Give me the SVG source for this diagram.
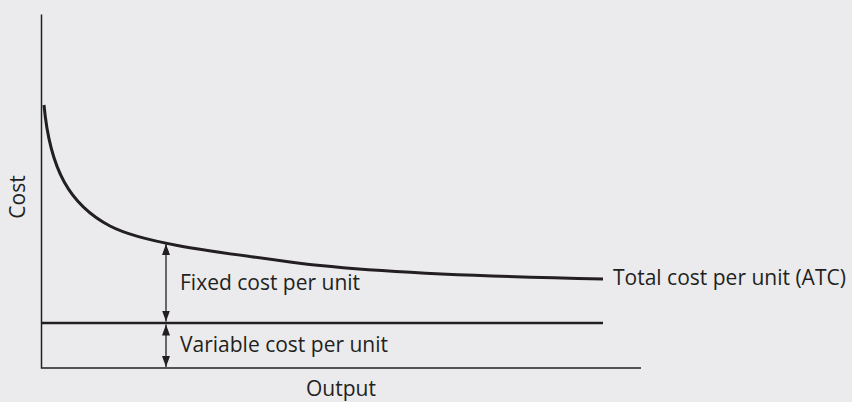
<svg xmlns="http://www.w3.org/2000/svg" width="852" height="402" viewBox="0 0 852 402">
<defs>
<style>
.axis{stroke:#231f20;stroke-width:1.5;fill:none}
.curve{stroke:#231f20;stroke-width:3;fill:none;stroke-linecap:butt}
.vc{stroke:#231f20;stroke-width:2.5;fill:none}
.arr{stroke:#231f20;stroke-width:1.3;fill:none;marker-start:url(#ah);marker-end:url(#ah)}
text{font-family:"Open Sans","Noto Sans",sans-serif;font-size:21px;fill:#231f20}
</style>
<marker id="ah" viewBox="0 0 11 8" refX="11" refY="4" markerWidth="11" markerHeight="8" markerUnits="userSpaceOnUse" orient="auto-start-reverse">
<path d="M0,0 L11,4 L0,8 Z" fill="#231f20"/>
</marker>
</defs>
<rect width="852" height="402" fill="#ebebed"/>
<g id="axes">
<path class="axis" d="M41.5,14.5 V368 H641"/>
<text transform="translate(25,197) rotate(-90)" text-anchor="middle">Cost</text>
<text x="341" y="396" text-anchor="middle">Output</text>
</g>
<g id="atc">
<path class="curve" d="M44,105 C50,170 70,205 110,226 C140,241.75 200,250 290,262 C370,272.7 500,277 603,279"/>
<text x="613" y="285">Total cost per unit (ATC)</text>
</g>
<g id="avc">
<path class="vc" d="M41.5,323 H603"/>
</g>
<g id="connectors">
<path class="arr" d="M166,244 V321.5"/>
<path class="arr" d="M166,324.5 V367"/>
</g>
<g id="labels">
<text x="180" y="290">Fixed cost per unit</text>
<text x="180" y="352">Variable cost per unit</text>
</g>
</svg>
